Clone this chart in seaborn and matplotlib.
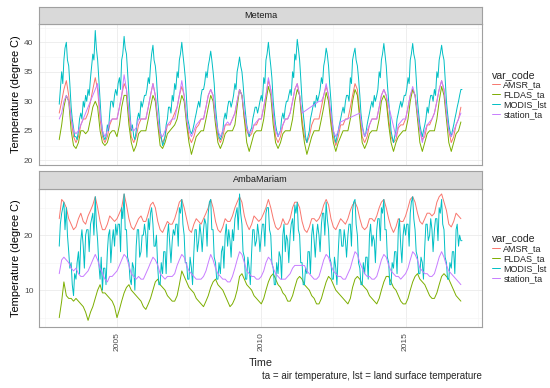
import numpy as np
import pandas as pd
import seaborn as sns
import matplotlib.pyplot as plt
import matplotlib.dates as mdates

NA = np.nan

# one row per year 2003..2016; monthly (Jan..Dec) or half-monthly for MODIS
months = pd.date_range("2003-01-01", "2016-12-01", freq="MS")
half_months = pd.date_range("2003-01-01", "2016-12-15", freq="SMS")
var_codes = ["AMSR_ta", "FLDAS_ta", "MODIS_lst", "station_ta"]
colors = ["#F8766D", "#7CAE00", "#00BFC4", "#C77CFF"]
sites = ["Metema", "AmbaMariam"]

metema_amsr = [
    28, 30, 32, 33.5, 31, 27, 24, 23, 24, 26, 27, 27,
    28, 30, 32, 34, 32, 27, 24, 23, 24, 26, 27, 27,
    27, 29, 31, 33, 32, 28, 24, 23, 24, 26, 27, 27,
    27, 29, 31, 33, 31, 27, 24, 23, 24, 26, 26, 27,
    28, 29, 31, 32.5, 31, 27, 24, 23, 24, 25.5, 26, 27,
    27, 29, 31, 32, 31, 27, 24, 23, 24, 26, 26, 26,
    27, 28, 30, 32, 31, 27, 25, 24, 24.5, 26, 26, 27,
    27, 29, 31, 33.5, 32, 28, 24, 23, 24, 26, 27, 27,
    28, 30, 32, 33, 31, 27, 24, 23, 24, 26, 27, 27,
    27, 29, 31, 32.5, 31, 27, 24, 22.5, 24, 26, 26, 27,
    27, 29, 31, 33, 32, 28, 24, 23, 24, 26, 27, 27,
    27, 29, 31, 32, 31, 27, 24, 23, 23.5, 25.5, 26, 26,
    27, 29, 31, 32, 31, 28, 25, 23.5, 24, 26, 26, 27,
    28, 30, 32, 33.5, 32, 28, 25, 23, 24, 26, 27, 29,
]
metema_fldas = [
    23.5, 26, 29, 31, 30, 25, 22.5, 22, 23, 25, 25, 24.5,
    25, 27, 29, 30, 29, 25, 23, 22.5, 23, 24.5, 25, 25,
    24, 26, 29, 31, 31, 26, 23, 21.5, 22.5, 24.5, 25, 25,
    25, 27, 29, 31, 30, 26, 22.5, 22, 23, 24.5, 25, 25.5,
    26, 27, 29, 31, 30, 26, 23, 21, 22.5, 24, 24.5, 25,
    25, 27, 29, 31, 30, 26, 23, 22, 23, 24.5, 25, 25,
    25, 26, 29, 32, 31, 27, 23, 21.5, 23, 24.5, 25, 25,
    25, 27, 30, 32.5, 31, 26, 23, 22, 23, 24.5, 25, 25,
    25, 27, 30, 32, 31, 26, 23, 21, 22.5, 24, 25, 25,
    25, 27, 29, 31.5, 30, 26, 23, 21.5, 23, 24, 25, 25,
    25, 27, 30, 32, 31, 27, 23, 22, 23, 24.5, 25, 25,
    25, 27, 30, 31, 30, 26, 23, 21.5, 23, 24, 24.5, 25,
    25, 27, 30, 32, 31, 27, 23, 21.5, 23, 24.5, 25, 25,
    25, 27, 30, 32.5, 31, 27, 23, 21.5, 23, 24.5, 25, 26.5,
]
metema_modis = [  # half-monthly
    29.5, 32, 35, 33, 37, 39, 40, 37, 36, 33, 29, 27, 25.5, 24, 24, 23.5, 25, 27, 28, 27, 30, 29, 31, 30,
    32, 31, 34, 36, 38, 37, 42, 39, 37, 34, 30, 27, 25, 24, 23.5, 24, 26, 25, 28, 30, 30, 29, 31, 32,
    31, 33, 34, 32, 37, 38, 41, 39, 38, 35, 31, 28, 25, 26, 24, 23.5, 25, 27, 28, 27, 30, 29, 30, 31,
    31, 32, 34, 33, 36, 38, 39.5, 37, 36, 34, 30, 28, 25, 24, 22.5, 23, 24, 26, 27, 29, 29, 28, 31, 30,
    33, 32, 35, 34, 37, 38, 40, 38, 36, 34, 30, 27, 26, 25, 24.5, 25, 26, 27, 28, 29, 30, 29, 31, 32,
    32, 33, 35, 34, 36, 37, 38.5, 37, 35, 33, 29, 27, 25, 24, 23.5, 24, 25, 27, 28, 27, 29, 30, 30, 29,
    30, 31, 33, 32, 35, 36, 37.5, 36, 35, 33, 30, 28, 26, 25, 24, 25, 25.5, 27, 28, 29, 29, 28, 29, 30,
    31, 30, 34, 33, 37, 38, 40, 38, 36, 34, 30, 28, 26, 25, 24, 24.5, 25, 27, 28, 27, 29, 30, 30, 31,
    32, 31, 35, 34, 38, 37, 40.5, 39, 37, 34, 30, 28, 26, 24, 23, 24, 25, 27, 28, 29, 30, 29, 31, 30,
    31, 32, 34, 33, 36, 37, 39, 38, 36, 33, 30, 27, 25, 24, 23, 24, 25, 26, 27, 28, 29, 28, 30, 31,
    31, 30, 34, 33, 37, 38, 39, 37, 36, 34, 31, 28, 26, 25, 24, 24.5, 26, 27, 28, 29, 30, 29, 31, 30,
    31, 32, 35, 34, 37, 38, 39.8, 38, 36, 33, 30, 28, 25, 24, 23, 24, 25, 27, 28, 29, 30, 29, 30, 31,
    31, 32, 34, 33, 37, 38, 39.8, 38, 37, 34, 30, 28, 26, 25, 24, 25, 26, 27, 29, 28, 30, 31, 31, 30,
    32, 31, 35, 34, 37, 38, 39.5, 38, 37, 34, 30, 28, 26, 25, 24, 25, 26, 27, 28, 29, 30, 31, 32, 32,
]
metema_station = [
    27, 28, 30, 31, 30, 27, 25, 24.5, 25, NA, NA, NA,
    NA, NA, NA, NA, 33, 28, 25, 24, 25, 26.5, 27, 27,
    27, 29, 31, 34.5, 32, 28, 25.5, 25, 25.5, 27, 27, 27,
    27, 29, 31, 33, 31, 27, 24.5, 24, 25, 26, 26.5, 27,
    27, 29, 31, 33.5, 31, 27, 25, 24, 25, 26, 26.5, 27,
    27, 29, 31, 32, 31, 27, 25, 24, 25, 26, 26.5, 26,
    27, 28, 30, 32, 31, 28, 25.5, 24.5, 25, 26, 26.5, 27,
    27, 29, 31, 34, 32, 28, 25, 24, 25, 26, 27, 27,
    28, 30, 32, 33, 31, 28, NA, NA, NA, NA, NA, NA,
    30, 30, 31, 33, 31, 28, 25, 24, 25, 26.5, NA, NA,
    NA, NA, NA, NA, NA, 28, 25.5, 24, 25, 26, 27, 27,
    27, 29, 31, 32, 31, NA, NA, NA, 24, 26, 26.5, 27,
    27, 29, 31, 32.5, 31, 28, 25, 23, 25, 26, 26.5, 27,
    28, 30, 32, 33.5, 32, 28, 25, 24, 25, 26, 27, 28,
]

amba_amsr = [
    23, 26.5, 26, 25, 23, 22, 21, 21.5, 23, 24, 22.5, 22,
    23.5, 24.5, 25.5, 27, 25, 22.5, 21, 21, 22, 23.5, 23, 22.5,
    23, 24, 25, 27.5, 25.5, 23, 21.5, 21, 22, 23, 23.5, 22.5,
    22.5, 24, 25.5, 26, 25, 22.5, 21, 20.5, 21.5, 22.5, 22, 22,
    23, 24.5, 26, 26.5, 25, 23, 21, 20.5, 22, 23, 22.5, 22,
    23, 24, 25, 26.5, 25, 22.5, 21, 20.5, 21.5, 23, 22.5, 22.5,
    23.5, 25, 26, 27, 26, 23.5, 22, 21, 22, 23.5, 23, 22.5,
    23, 24, 25, 26.5, 25, 23, 21.5, 21, 21.5, 23, 22, 22,
    23, 25, 26, 26, 25, 22.5, 21, 20.5, 21.5, 23, 23, 22.5,
    23, 24, 25.5, 26.5, 25.5, 23, 21.5, 21, 22, 23, 22.5, 22,
    23, 24.5, 25.5, 26, 25, 23, 21.5, 21, 21.5, 23, 23, 22.5,
    23.5, 25, 26, 26.5, 25, 23, 21.5, 20.5, 21.5, 23, 22.5, 22.5,
    23.5, 25, 26.5, 27, 26, 24, 22.5, 22, 23, 24, 24, 23.5,
    24, 26, 27, 27.5, 26, 24.5, 22, 21.5, 22.5, 24, 23.5, 23,
]
amba_fldas = [
    5, 8, 11.5, 9, 8.5, 8.5, 8, 8.5, 8, 7.5, 7, 6,
    4.5, 6, 7, 8.5, 10, 11, 9.5, 9.5, 9, 8.5, 8, 7,
    5, 6.5, 8, 9.5, 10.5, 11, 10, 9.5, 9, 8.5, 8, 7,
    6.5, 7.5, 8.5, 10, 11.5, 12, 11, 10.5, 10, 9, 8.5, 8,
    8, 9, 11, 13.5, 12.5, 11.5, 10.5, 10, 9.5, 8.5, 8, 7.5,
    7, 8, 9, 10.5, 11.5, 12, 11, 10.5, 10, 9, 8, 7,
    7.5, 8.5, 10, 12.5, 13, 12, 11, 10.5, 10, 9, 8.5, 8,
    7.5, 8.5, 10, 11.5, 12.5, 13, 12, 11, 10.5, 9.5, 9, 8,
    8, 9, 10.5, 12, 12.5, 12, 11, 10.5, 10, 9, 8.5, 7.5,
    7.5, 8.5, 10, 11.5, 12.5, 12, 11, 10, 9.5, 9, 8.5, 8,
    7.5, 8.5, 10.5, 12, 12.5, 12, 11, 10.5, 10, 9, 8.5, 8,
    7.5, 8.5, 10, 11.5, 12.5, 12.5, 11.5, 10.5, 10, 9, 8, 7.5,
    7.5, 8.5, 10, 11.5, 12.5, 13, 12, 11.5, 11, 10, 9, 8.5,
    8.5, 9.5, 11, 12.5, 13, 12.5, 12, 11, 10, 9, 8.5, 8,
]
amba_modis = [  # half-monthly
    18, 22, 24, 25, 26, 21, 25, 20, 17, 14, 15, 11, 9, 13, 12, 15, 17, 13, 19, 21, 18, 14, 20, 21,
    21, 17, 22, 23, 24, 20, 27, 22, 19, 15, 12, 16, 10, 14, 14, 11, 17, 20, 21, 15, 19, 21, 18, 22,
    20, 22, 22, 17, 25, 23, 27.5, 21, 21, 16, 15, 12, 11, 15, 14, 10, 18, 21, 21, 16, 17, 20, 20, 22,
    20, 16, 23, 21, 24, 25, 22, 18, 18, 20, 14, 11, 11, 15, 13, 17, 17, 13, 20, 22, 18, 15, 19, 21,
    20, 22, 22, 18, 25, 24, 26.5, 22, 20, 15, 15, 12, 12, 16, 14, 11, 17, 21, 21, 17, 19, 22, 20, 17,
    21, 23, 22, 18, 24, 26, 26.5, 21, 21, 16, 15, 12, 12, 15, 13, 17, 18, 14, 20, 22, 18, 21, 19, 16,
    21, 19, 23, 24, 25, 21, 27.5, 24, 22, 17, 16, 12, 12, 16, 14, 11, 17, 21, 21, 18, 19, 22, 20, 17,
    20, 22, 22, 18, 24, 25, 25, 21, 20, 15, 14, 11, 11, 15, 13, 17, 16, 12, 20, 22, 17, 20, 19, 15,
    20, 22, 23, 19, 25.5, 24, 26, 21, 20, 15, 15, 11, 11, 14, 13, 17, 17, 13, 20, 22, 19, 16, 20, 22,
    20, 17, 22, 24, 24, 20, 26, 23, 21, 16, 15, 12, 12, 16, 14, 11, 17, 21, 21, 18, 18, 21, 19, 16,
    20, 22, 22, 18, 24.5, 26, 26.5, 22, 20, 15, 14, 11, 11, 15, 13, 16, 16, 12, 20, 22, 18, 20, 19, 15,
    21, 23, 23, 19, 25, 24, 26.5, 21, 21, 16, 15, 11, 11, 15, 14, 17, 17, 13, 21, 23, 18, 15, 20, 22,
    20, 22, 22, 18, 24, 26, 27, 23, 21, 17, 16, 13, 13, 16, 15, 12, 18, 22, 22, 19, 20, 23, 21, 17,
    21, 23, 23, 19, 25, 24, 26.5, 22, 21, 16, 15, 12, 12, 15, 14, 17, 17, 13, 21, 22, 18, 20, 19, 19,
]
amba_station = [
    13, 15.5, 16, 15.5, 15, 14, 13.5, 14, 13, 12.5, 12.5, 13,
    13.5, 14.5, 15.5, 16.5, 15.5, 14, 13, 12, 11.5, 12.5, 12.5, 13,
    13.5, 14.5, 15.5, 16.5, 16, 14.5, 13, 12.5, 12, 12.5, 12, 12,
    13, 14, 15, 16, 15.5, 14.5, 13, 12.5, 12, 12.5, 12.5, 12.5,
    13, 14.5, 15.5, 16.5, 16, 14.5, 13.5, 13, 12.5, 12, 12, 12,
    12.5, 13.5, 15, 16.5, 15.5, 14, 13, 12.5, 12, 12, 11.5, 11.5,
    12.5, 14, 15.5, 17, 16.5, 15, 13.5, 13, 12.5, 12.5, 12, 12,
    12.5, 13.5, 15, 16, 15.5, 14, 13, 12.5, 12, 12, 12, 12.5,
    13, 14, 14.5, NA, NA, NA, 14.5, 13.5, 13, 12.5, 12, 12,
    12.5, 14, 15.5, 16.5, 16, 14.5, 13.5, 13, 12.5, 12.5, 12, 12,
    13, 14, 15.5, 17, 16.5, 15, 14, 13, 12.5, 12.5, 12, 12,
    12.5, 14, 15.5, 16.5, 16, 14.5, 13.5, 13, 12.5, 12.5, 12, 12.5,
    13, 14, 15.5, 17, 16.5, 15.5, 14, 13.5, 13, 13, 12.5, 12.5,
    13, 14.5, 16, 17, 16, 14.5, 13.5, 13, 12.5, 12, 11.5, 11,
]

site_series = {
    "Metema": [metema_amsr, metema_fldas, metema_modis, metema_station],
    "AmbaMariam": [amba_amsr, amba_fldas, amba_modis, amba_station],
}
y_limits = {"Metema": (19.2, 43.1), "AmbaMariam": (3.3, 28.4)}
y_major = {"Metema": [20, 25, 30, 35, 40], "AmbaMariam": [10, 20]}
y_minor = {"Metema": [22.5, 27.5, 32.5, 37.5, 42.5], "AmbaMariam": [5, 15, 25]}


def long_frame(site):
    parts = []
    for code, vals in zip(var_codes, site_series[site]):
        times = half_months if len(vals) == len(half_months) else months
        d = pd.DataFrame({"time": times, "temp": vals})
        d["var_code"] = code
        parts.append(d)
    df = pd.concat(parts, ignore_index=True)
    # ggplot joins the line across missing station rows
    return df.dropna()


sns.set_theme(style="white")
plt.rcParams["font.family"] = ["Liberation Sans", "DejaVu Sans"]

W_PX, H_PX = 550, 388
fig = plt.figure(figsize=(W_PX / 100, H_PX / 100), dpi=100)
left, width = 39 / W_PX, 443 / W_PX
# (strip top, strip bottom, panel bottom) in pixels from the top
boxes = {"Metema": (7, 24, 165), "AmbaMariam": (171, 189, 327)}
border = "#A0A0A0"

major_x = mdates.date2num([pd.Timestamp(f"{y}-01-01") for y in (2005, 2010, 2015)])
minor_x = mdates.date2num([pd.Timestamp(f"{y}-07-02") for y in (2002, 2007, 2012, 2017)])

for i, site in enumerate(sites):
    st, sb, pb = boxes[site]
    ax = fig.add_axes([left, 1 - pb / H_PX, width, (pb - sb) / H_PX])
    sns.lineplot(data=long_frame(site), x="time", y="temp", hue="var_code",
                 hue_order=var_codes, palette=colors, linewidth=0.7,
                 estimator=None, ax=ax)
    ax.set_xlim(pd.Timestamp("2002-04-20"), pd.Timestamp("2017-08-25"))
    ax.set_ylim(*y_limits[site])
    ax.set_yticks(y_major[site])
    ax.set_yticks(y_minor[site], minor=True)
    ax.set_xticks(major_x)
    ax.set_xticks(minor_x, minor=True)
    ax.xaxis.set_major_formatter(mdates.DateFormatter("%Y"))
    ax.set_axisbelow(True)
    ax.grid(which="major", color="#EBEBEB", linewidth=0.6)
    ax.grid(which="minor", color="#F4F4F4", linewidth=0.4)
    for sp in ax.spines.values():
        sp.set_color(border)
        sp.set_linewidth(0.8)
    ax.tick_params(which="major", length=2.5, width=0.6, color="#4D4D4D",
                   labelsize=6, labelcolor="#4D4D4D", pad=1.5)
    ax.tick_params(which="minor", length=0)
    ax.set_xlabel("")
    ax.set_ylabel("Temperature (degree C)", fontsize=7.9, color="black")
    ax.yaxis.set_label_coords(-0.041, 0.5)
    if i == 0:
        ax.tick_params(axis="x", labelbottom=False)
    else:
        plt.setp(ax.get_xticklabels(), rotation=90, ha="center", va="top")

    sns.move_legend(ax, "center left", bbox_to_anchor=(1.022, 0.5),
                    frameon=False, title="var_code", fontsize=6.5,
                    title_fontsize=7.6, handlelength=0.9, handletextpad=0.4,
                    labelspacing=0.1, borderaxespad=0, borderpad=0,
                    alignment="left")

    sax = fig.add_axes([left, 1 - sb / H_PX, width, (sb - st) / H_PX])
    sax.set_facecolor("#D9D9D9")
    sax.set_xticks([])
    sax.set_yticks([])
    for sp in sax.spines.values():
        sp.set_color(border)
        sp.set_linewidth(0.8)
    sax.text(0.5, 0.5, site, ha="center", va="center", fontsize=6.6,
             color="#1A1A1A", transform=sax.transAxes)

fig.text((39 + 482) / 2 / W_PX, 1 - 363 / H_PX, "Time", ha="center",
         va="center", fontsize=7.8)
fig.text(482 / W_PX, 1 - 376 / H_PX,
         "ta = air temperature, lst = land surface temperature",
         ha="right", va="center", fontsize=7)

fig.savefig("out.png", dpi=100)
